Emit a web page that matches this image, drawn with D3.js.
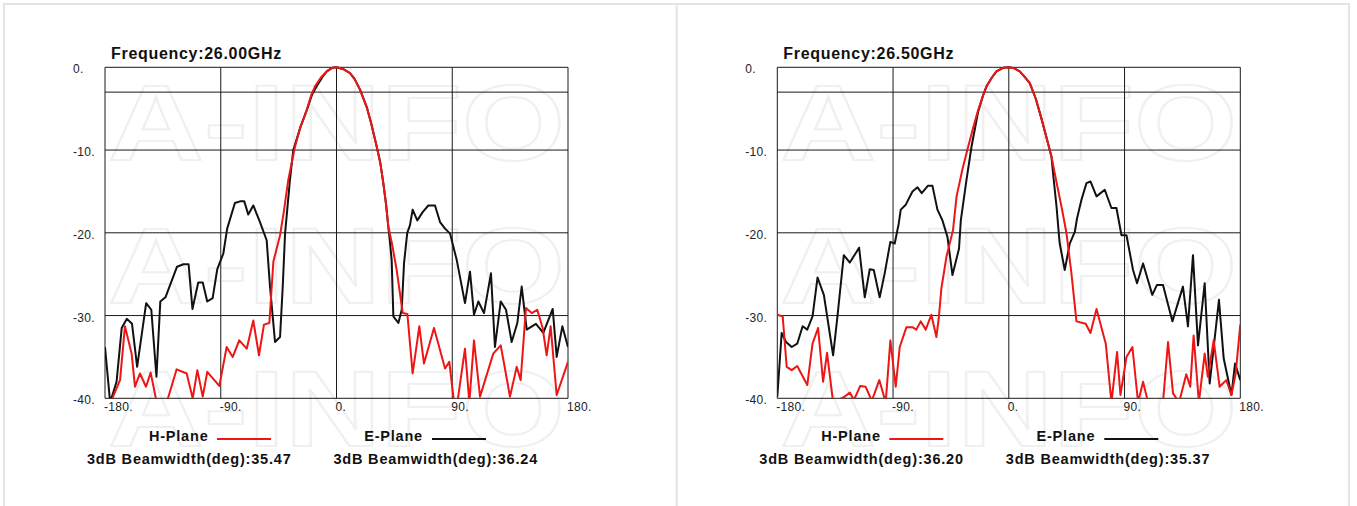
<!DOCTYPE html>
<html>
<head>
<meta charset="utf-8">
<script src="https://cdn.jsdelivr.net/npm/d3@7"></script>
<style>
  html, body { margin: 0; padding: 0; background: #fff; }
  svg { display: block; font-family: "Liberation Sans", Arial, sans-serif; }
</style>
</head>
<body>
<svg id="chart" width="1357" height="506"></svg>
<script>
// angle ticks (deg) and level ticks (dB)
const angleTicks = [-180, -90, 0, 90, 180];
const levelTicks = [0, -10, -20, -30, -40];
const levelGrid = [0, -3, -10, -20, -30, -40];

const frequencies = ["26.00GHz", "26.50GHz"];
const hBeamwidths = ["35.47", "36.20"];
const eBeamwidths = ["36.24", "35.37"];

// [angle deg, gain dB]
const hPlane2600 = [[-178,-42],[-173.5,-39.7],[-168.3,-37.8],[-164.5,-31.3],[-159.3,-34.6],[-156.7,-38.6],[-152.8,-37],[-148.1,-38.6],[-144.5,-36.9],[-139.8,-40.5],[-132,-40.5],[-124.3,-36.5],[-116.5,-37],[-111.8,-40],[-108.2,-36.6],[-104,-39.8],[-100.5,-36.8],[-91.1,-38.5],[-85.4,-33.8],[-80.7,-35],[-75.6,-33],[-69.8,-34],[-64.7,-30.6],[-60.3,-34.8],[-56.4,-31.1],[-52.2,-30.9],[-49.1,-23.5],[-43.9,-20.3],[-41,-17.5],[-37.5,-13.6],[-32.3,-9.6],[-28,-7.2],[-23.2,-5.2],[-19.5,-3.3],[-16.7,-2.3],[-12,-1.2],[-7.6,-0.5],[-3,-0.05],[0,0],[5,-0.2],[10.5,-0.7],[14,-1.4],[18.3,-2.7],[23.5,-4.8],[27,-6.8],[31.3,-9.6],[34,-11.5],[36.4,-14],[38.5,-16.5],[40.3,-19.3],[43,-21.2],[46.8,-24.5],[51.5,-29.7],[55.1,-29.8],[59.2,-37],[64.4,-31.3],[68,-35.8],[75.8,-31.5],[84.4,-36.4],[87.7,-35.6],[91.4,-40.5],[94,-40.5],[99.9,-34],[103.3,-40.5],[106.9,-33],[111.6,-39.8],[121.9,-34.6],[127.7,-33.6],[134.9,-39.8],[140.1,-36.2],[143.2,-37.8],[147.3,-29.1],[151.8,-29.7],[156.1,-29.3],[160.3,-31.5],[163.4,-34.8],[166.5,-31.3],[171.2,-39.6],[180,-35.6]];
const ePlane2600 = [[-180,-33.8],[-176,-40.5],[-171,-38],[-167,-31.5],[-163,-30.4],[-159,-31],[-155,-36.2],[-148,-28.5],[-144,-29.3],[-140,-37.4],[-137,-28.3],[-133,-27.8],[-124,-24.1],[-119,-23.8],[-115,-23.8],[-112,-29.2],[-107.5,-26],[-104,-26],[-100.5,-28.3],[-96.3,-27.9],[-92.7,-24.4],[-88,-22.5],[-85,-19.5],[-79,-16.4],[-75,-16.2],[-71.7,-16.2],[-68.6,-17.8],[-64.7,-16.7],[-59.5,-18.7],[-54.3,-20.9],[-51.7,-26.5],[-47.8,-33.2],[-43.9,-32.6],[-41.8,-26.5],[-40,-20.1],[-36.2,-13.6],[-33.6,-10],[-28,-7.2],[-23.2,-5.2],[-19,-3.3],[-15.4,-2.3],[-11,-1.2],[-7.6,-0.5],[-3,-0.05],[0,0],[5,-0.2],[10.5,-0.7],[14,-1.4],[18.3,-2.7],[23.5,-4.8],[27,-6.8],[31.3,-9.6],[34,-11.5],[36.4,-14],[38.5,-16.5],[40.3,-19.3],[41.5,-21],[42.9,-23.3],[44.2,-30.1],[48.1,-30.9],[50.7,-29.3],[52.5,-23.7],[55,-20],[57.1,-19.1],[59.2,-17.2],[62.8,-18.5],[67,-17.5],[71.4,-16.7],[76.6,-16.7],[80.5,-18.7],[84.4,-19.5],[88.3,-20.1],[93.5,-23.3],[99.9,-28.5],[103.8,-24.7],[106.9,-29.9],[110.3,-28.3],[114.7,-29.7],[120.1,-24.9],[123.2,-33.8],[127.7,-28.3],[131.8,-29.3],[136.2,-33.2],[140.6,-30.9],[144,-26.5],[147.9,-31.7],[155.1,-31],[160.8,-32.1],[168.1,-29.2],[171.2,-35],[175.6,-31.3],[180,-33.8]];

const hPlane2650 = [[-180,-29.9],[-175.8,-30.1],[-172.7,-36.2],[-168.8,-36.6],[-164.5,-36.1],[-156.7,-38.4],[-152.6,-33.4],[-148.3,-31.5],[-144.4,-38],[-141.3,-34.5],[-136.6,-40.5],[-127.6,-39.8],[-123.6,-39.3],[-120.4,-40.2],[-115.5,-38.5],[-111.4,-38.6],[-106.5,-40.3],[-100.7,-37.8],[-95.7,-40.5],[-92.1,-33],[-87.9,-38.6],[-84.8,-33.8],[-79.6,-31.4],[-75,-31.4],[-71.9,-31.7],[-68.5,-30.7],[-64.6,-31.7],[-60.2,-29.9],[-56.3,-32.6],[-54.3,-30.1],[-52.4,-26.7],[-48.5,-22.9],[-43.4,-19.7],[-40.6,-15.6],[-36,-12.3],[-31.6,-9.6],[-27.5,-7.2],[-23.9,-5.2],[-20,-3.4],[-17.3,-2.3],[-13,-1.2],[-9.6,-0.5],[-4,-0.05],[0,0],[4,-0.1],[8.5,-0.5],[12,-1.1],[16.3,-1.9],[21,-3.8],[25.4,-6.2],[29,-8.3],[33.2,-10.8],[35.7,-12.8],[40.9,-16.8],[44.8,-20],[48.7,-24.9],[52.6,-30.7],[59.8,-31],[63.5,-32.1],[68.2,-29.2],[75.4,-33.4],[79.8,-40.5],[84.2,-34.4],[86.8,-39.6],[91.5,-35],[96.1,-33.8],[100.5,-40.5],[104.4,-38],[108.3,-40.5],[119.9,-40.5],[123.8,-33.2],[127.7,-39.4],[132.4,-40.5],[138,-37.1],[141.1,-38.6],[143.7,-32.4],[147.8,-40.5],[152.3,-34.6],[154.8,-37.4],[159.3,-33],[163.9,-38.6],[169.1,-37.8],[173.1,-39.6],[176.4,-37],[180,-31.1]];
const ePlane2650 = [[-180,-39.8],[-176.6,-32.1],[-173.2,-33.2],[-168.8,-33.8],[-164.5,-33.4],[-160.3,-31.3],[-156.7,-31.7],[-152.6,-30.1],[-148.7,-25.4],[-143.8,-27.5],[-136.6,-34.8],[-133.5,-30.5],[-128.3,-22.7],[-123.6,-23.6],[-116.4,-21.8],[-112,-27.8],[-108.1,-24.4],[-105,-24.5],[-100.4,-27.8],[-96.5,-24.9],[-92.1,-21.1],[-88.7,-21.3],[-85.6,-18.9],[-84,-17.2],[-80.1,-16.6],[-74.9,-15],[-71,-14.5],[-67.7,-15.2],[-62.8,-14.3],[-59.4,-14.3],[-55.5,-17.2],[-51.6,-18.5],[-47.7,-20.5],[-43.8,-25.1],[-38.7,-21.9],[-37.3,-18.5],[-32.9,-13.6],[-29,-9.6],[-23.9,-5.4],[-20,-3.4],[-17.3,-2.3],[-13,-1.2],[-9.6,-0.5],[-4,-0.05],[0,0],[4,-0.1],[8.5,-0.5],[12,-1.1],[16.3,-1.9],[21,-3.8],[25.4,-6.2],[29,-8.3],[33.2,-10.8],[34.4,-12.8],[37.1,-16.8],[39.1,-20.5],[39.6,-21.3],[43.5,-24.5],[47.4,-21.3],[51.3,-19.9],[53,-18.3],[56.5,-16],[60.4,-14],[63.5,-13.8],[68.2,-15.6],[74.6,-14.8],[79.8,-17],[83.7,-17],[87.6,-20.3],[91.5,-20.3],[96.6,-24.5],[99.7,-26.1],[104.4,-23.7],[111.6,-27.5],[115.2,-26.3],[119.9,-26.3],[127.2,-30.7],[131.5,-28.5],[135.4,-26.5],[139.3,-31.3],[143.2,-22.7],[147.1,-33.6],[152.3,-26.1],[156.2,-38.2],[163.4,-28.1],[167.1,-35.2],[173.1,-39.6],[175.9,-35.8],[180,-37.8]];

const panels = [
  { ox: 0, freq: frequencies[0], h: hPlane2600, e: ePlane2600, hbw: hBeamwidths[0], ebw: eBeamwidths[0] },
  { ox: 672.3, freq: frequencies[1], h: hPlane2650, e: ePlane2650, hbw: hBeamwidths[1], ebw: eBeamwidths[1] },
];

const RED = "#ee1515";
const svg = d3.select("#chart");

// panel frames
svg.append("path")
  .attr("d", "M4,506V4H1349V506M676.7,4V506")
  .attr("fill", "none").attr("stroke", "#e4e4e4").attr("stroke-width", 2);

function drawPanel(p, i) {
  const g = svg.append("g").attr("transform", `translate(${p.ox},0)`);
  const x = d3.scaleLinear().domain([-180, 180]).range([105, 568]);
  const y = d3.scaleLinear().domain([-40, 0]).range([398.3, 67.3]);

  // watermark
  const wm = g.append("g").attr("fill", "none").attr("stroke", "#f0f0f0").attr("stroke-width", 2);
  [160, 303, 446].forEach((by) => {
    wm.append("text").attr("x", 108).attr("y", by)
      .attr("textLength", 457).attr("lengthAdjust", "spacingAndGlyphs")
      .attr("font-size", 107).attr("font-weight", "bold")
      .attr("font-family", "Liberation Sans, Arial, sans-serif")
      .text("A-INFO");
  });

  // grid
  g.append("g").selectAll("line.v").data(angleTicks).join("line")
    .attr("x1", (d) => x(d)).attr("x2", (d) => x(d))
    .attr("y1", y(0)).attr("y2", y(-40))
    .attr("stroke", "#1a1a1a").attr("stroke-width", 1);
  g.append("g").selectAll("line.h").data(levelGrid).join("line")
    .attr("x1", x(-180)).attr("x2", x(180))
    .attr("y1", (d) => y(d)).attr("y2", (d) => y(d))
    .attr("stroke", "#1a1a1a").attr("stroke-width", 1);

  // tick labels
  g.append("g").selectAll("text").data(levelTicks).join("text")
    .attr("x", 73).attr("y", (d) => y(d) + 6)
    .attr("font-size", 12).attr("letter-spacing", 0.3).attr("fill", "#222")
    .text((d) => `${d}.`);
  g.append("g").selectAll("text").data(angleTicks).join("text")
    .attr("x", (d) => x(d) - 1).attr("y", 411)
    .attr("font-size", 12).attr("letter-spacing", 0.3).attr("fill", "#222")
    .text((d) => `${d}.`);

  // title
  g.append("text").attr("x", 111).attr("y", 59)
    .attr("font-size", 16).attr("font-weight", "bold").attr("letter-spacing", 0.7)
    .attr("fill", "#111").text(`Frequency:${p.freq}`);

  // curves
  const clipId = `clip${i}`;
  g.append("clipPath").attr("id", clipId).append("rect")
    .attr("x", x(-180)).attr("y", y(0) - 3).attr("width", x(180) - x(-180)).attr("height", y(-40) - y(0) + 3);
  const line = d3.line().x((d) => x(d[0])).y((d) => y(d[1]));
  const curves = g.append("g").attr("clip-path", `url(#${clipId})`)
    .attr("fill", "none").attr("stroke-width", 2).attr("stroke-linejoin", "round");
  curves.append("path").attr("d", line(p.e)).attr("stroke", "#111");
  curves.append("path").attr("d", line(p.h)).attr("stroke", RED);

  // legend
  const lg = g.append("g").attr("font-size", 14.5).attr("font-weight", "bold")
    .attr("letter-spacing", 0.8).attr("fill", "#111");
  lg.append("text").attr("x", 208.5).attr("y", 441).attr("text-anchor", "end").text("H-Plane");
  lg.append("line").attr("x1", 217).attr("x2", 271).attr("y1", 439).attr("y2", 439)
    .attr("stroke", RED).attr("stroke-width", 2);
  lg.append("text").attr("x", 87).attr("y", 464).text(`3dB Beamwidth(deg):${p.hbw}`);
  lg.append("text").attr("x", 423).attr("y", 441).attr("text-anchor", "end").text("E-Plane");
  lg.append("line").attr("x1", 432).attr("x2", 486).attr("y1", 439).attr("y2", 439)
    .attr("stroke", "#111").attr("stroke-width", 2);
  lg.append("text").attr("x", 333.5).attr("y", 464).text(`3dB Beamwidth(deg):${p.ebw}`);
}

panels.forEach(drawPanel);
</script>
</body>
</html>
